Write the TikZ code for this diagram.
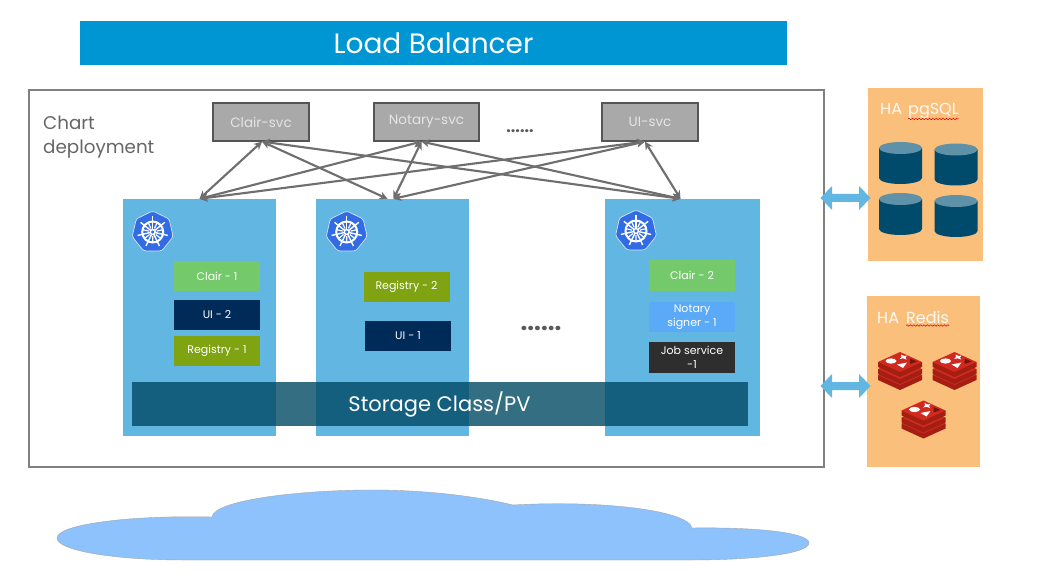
\documentclass[tikz,border=0pt]{standalone}
\usepackage{fontspec}
\setmainfont{Poppins}
\usetikzlibrary{arrows.meta,decorations.pathmorphing,calc}
\definecolor{lbblue}{HTML}{0095D3}
\definecolor{podblue}{HTML}{62B6E2}
\definecolor{svcgray}{HTML}{A9A9A9}
\definecolor{svcline}{HTML}{555555}
\definecolor{linkgray}{HTML}{6E6E6E}
\definecolor{clairgreen}{HTML}{74CA6A}
\definecolor{uinavy}{HTML}{002B58}
\definecolor{regolive}{HTML}{7FA311}
\definecolor{notaryblue}{HTML}{5AAAF7}
\definecolor{jobdark}{HTML}{2E2E2E}
\definecolor{storeblue}{HTML}{004A64}
\definecolor{haorange}{HTML}{FBBF7C}
\definecolor{dbdark}{HTML}{004A6B}
\definecolor{dbtop}{HTML}{5F92A8}
\definecolor{kubeblue}{HTML}{326CE5}
\definecolor{cloudblue}{HTML}{8DC2FD}
\definecolor{redisdark}{HTML}{A41E11}
\definecolor{redistop}{HTML}{D02A20}
\newcommand{\fsz}[1]{\fontsize{#1}{14}\selectfont}
\newcommand{\kubeicon}[2]{%
  \begin{scope}[shift={(#1,#2)}]
    \fill[kubeblue,draw=white!80!kubeblue,line width=.7pt,rounded corners=2.5pt]
      (-90:21) -- (-38.57:21) -- (12.86:21) -- (64.29:21) -- (115.71:21) -- (167.14:21) -- (218.57:21) -- cycle;
    \draw[white,line width=2pt] (0,0) circle (10.5);
    \draw[white,line width=1.4pt] (0,0) circle (2.4);
    \foreach \a in {-90,-38.57,12.86,64.29,115.71,167.14,218.57}{
      \draw[white,line width=1.4pt] (\a:2.4) -- (\a:15.5);
      \draw[white,line width=1.2pt] (\a+25.7:4) -- (\a+25.7:10);
    }
  \end{scope}}
\newcommand{\dbicon}[2]{%
  \begin{scope}[shift={(#1,#2)}]
    \fill[dbdark] (-21.5,6) -- (-21.5,36) arc[start angle=180,end angle=360,x radius=21.5,y radius=-6] -- (21.5,6) -- cycle;
    \fill[dbtop] (0,6) ellipse[x radius=21.5,y radius=6];
  \end{scope}}
\newcommand{\redislayer}[1]{%
  \fill[redisdark] (-22,#1+10) -- (-22,#1+15) -- (0,#1+25) -- (22,#1+15) -- (22,#1+10) -- cycle;
  \fill[redistop] (-22,#1+10) -- (0,#1) -- (22,#1+10) -- (0,#1+20) -- cycle;}
\newcommand{\redisicon}[2]{%
  \begin{scope}[shift={(#1,#2)}]
    \redislayer{13}
    \redislayer{7}
    \redislayer{0}
    \fill[white] (-9,9) ellipse[x radius=5.5,y radius=2.6];
    \fill[white] (1,2.5) -- (4,4) -- (7,3.5) -- (5.5,5.5) -- (6.5,7.5) -- (3,6.3) -- (-.5,7) -- (1.5,5) -- cycle;
    \fill[white] (-3,12.5) -- (7,10.5) -- (3,16) -- cycle;
    \fill[redisdark!70!black] (10,6.5) -- (17,9.5) -- (10,12) -- cycle;
  \end{scope}}
\tikzset{
  px/.style={x=1pt,y=-1pt},
  box/.style={inner sep=0pt,align=center,text=white},
  lb/.style={box,fill=lbblue,minimum width=707pt,minimum height=44pt,font=\fsz{28}},
  frame/.style={draw=black!50,line width=1.2pt,minimum width=795pt,minimum height=377pt,inner sep=0pt},
  svc/.style={box,fill=svcgray,draw=svcline,line width=1.2pt,minimum height=38pt,font=\fsz{13.5},text=white!90!black},
  pod/.style={inner sep=0pt,fill=podblue,minimum width=153pt,minimum height=237pt},
  inst/.style={box,minimum width=86pt,minimum height=30pt,font=\fsz{11}},
  store/.style={box,fill=storeblue,fill opacity=.8,text opacity=1,minimum width=616pt,minimum height=44pt,font=\fsz{21}},
  ha/.style={inner sep=0pt,fill=haorange},
  halabel/.style={inner sep=0pt,anchor=base west,text=white!90!haorange,font=\fsz{16}},
  link/.style={draw=linkgray,line width=2.1pt,{Stealth[length=8pt,width=8pt]}-{Stealth[length=8pt,width=8pt]}},
  fat/.style={draw=none,fill=podblue},
  squiggle/.style={draw=red!85!black,line width=.5pt,decorate,decoration={snake,amplitude=.7pt,segment length=3.4pt}},
  dots/.style={inner sep=0pt,text=black!65,font=\bfseries\fsz{16}},
  chart/.style={inner sep=0pt,anchor=base west,text=black!60,font=\fsz{18.3}}
}
\begin{document}
\begin{tikzpicture}[px]
\useasboundingbox (0,0) rectangle (1056,577);
\fill[white] (0,0) rectangle (1056,577);
\node[lb] (balancer) at (433.5,43) {Load Balancer};
\node[frame] (chartbox) at (426.5,278.5) {};
\node[chart] (chartone) at (43,129.5) {Chart};
\node[chart] (charttwo) at (43,153.5) {deployment};
\node[svc,minimum width=96pt] (clair) at (261,122) {Clair-svc};
\node[svc,minimum width=105pt] (notary) at (426.5,122) {Notary-svc};
\node[svc,minimum width=96pt] (ui) at (650,122) {UI-svc};
\node[dots] (dotsa) at (520,131) {......};
\node[pod] (poda) at (199.5,317.5) {};
\node[pod] (podb) at (392.5,317.5) {};
\node[pod,minimum width=155pt] (podc) at (682.5,317.5) {};
\draw[link] ([xshift=1pt]clair.south) -- (poda.north);
\draw[link] ([xshift=1pt]clair.south) -- ([xshift=-5pt]podb.north);
\draw[link] ([xshift=1pt]clair.south) -- ([xshift=-2pt]podc.north);
\draw[link] ([xshift=-5pt]notary.south) -- (poda.north);
\draw[link] ([xshift=-5pt]notary.south) -- ([xshift=1pt]podb.north);
\draw[link] ([xshift=-5pt]notary.south) -- ([xshift=-2pt]podc.north);
\draw[link] ([xshift=-5pt]ui.south) -- (poda.north);
\draw[link] ([xshift=-5pt]ui.south) -- ([xshift=1pt]podb.north);
\draw[link] ([xshift=-5pt]ui.south) -- ([xshift=-2pt]podc.north);
\kubeicon{152.7}{232}
\kubeicon{346.7}{232}
\kubeicon{636}{231}
\node[inst,fill=clairgreen] (clairone) at (217,276) {Clair - 1};
\node[inst,fill=uinavy] (uitwo) at (217,314.5) {UI - 2};
\node[inst,fill=regolive] (regone) at (217,351) {Registry - 1};
\node[inst,fill=regolive] (regtwo) at (406.5,286.5) {Registry - 2};
\node[inst,fill=uinavy] (uione) at (408,336) {UI - 1};
\node[inst,fill=clairgreen,minimum height=31pt] (clairtwo) at (692,275.5) {Clair - 2};
\node[inst,fill=notaryblue] (notarysigner) at (692,317) {Notary\\signer - 1};
\node[inst,fill=jobdark,minimum height=31pt] (jobservice) at (692,357.5) {Job service\\-1};
\node[dots,font=\bfseries\fsz{24}] (dotsb) at (541,328) {......};
\node[store] (storage) at (439.5,404) {Storage Class/PV};
\node[ha,minimum width=115pt,minimum height=173pt] (pgbox) at (925.5,174.5) {};
\node[ha,minimum width=113pt,minimum height=171pt] (redisbox) at (923.5,381.5) {};
\node[halabel] (haone) at (880,115) {HA};
\node[halabel] (pgsql) at (908,115) {pgSQL};
\draw[squiggle] ([yshift=-4pt]pgsql.base west) -- ([yshift=-4pt]pgsql.base east);
\node[halabel] (hatwo) at (877,323) {HA};
\node[halabel] (redisword) at (906,323) {Redis};
\draw[squiggle] ([yshift=-2.5pt]redisword.base west) -- ([yshift=-2.5pt]redisword.base east);
\dbicon{900.5}{142}
\dbicon{956}{143.5}
\dbicon{900.5}{193}
\dbicon{956}{195}
\redisicon{900}{352}
\redisicon{954.5}{352}
\redisicon{923.5}{400.5}
\coordinate (fata) at (845.5,198);
\coordinate (fatb) at (845.5,386);
\foreach \c in {fata,fatb}{
  \fill[fat] ($(\c)+(-25,0)$) -- ($(\c)+(-13.5,-12)$) -- ($(\c)+(-13.5,-4)$) -- ($(\c)+(13.5,-4)$) -- ($(\c)+(13.5,-12)$) -- ($(\c)+(25,0)$) -- ($(\c)+(13.5,12)$) -- ($(\c)+(13.5,4)$) -- ($(\c)+(-13.5,4)$) -- ($(\c)+(-13.5,12)$) -- cycle;
}
\path[fill=cloudblue,draw=black!35,line width=.4pt]
  (212,517) .. controls (214,500) and (300,490) .. (372,490)
  .. controls (430,490) and (480,497) .. (513,505)
  .. controls (600,500) and (688,510) .. (692,528)
  .. controls (760,527) and (809,533) .. (809,543)
  .. controls (809,553) and (760,560) .. (690,560)
  -- (185,560)
  .. controls (110,560) and (57,550) .. (57,538)
  .. controls (57,525) and (125,515) .. (212,517) -- cycle;
\end{tikzpicture}
\end{document}
